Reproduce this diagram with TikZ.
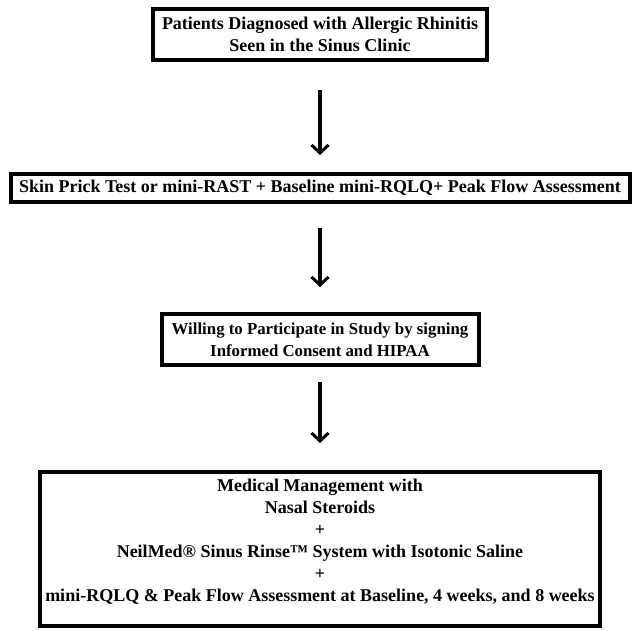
\documentclass[tikz,border=0pt]{standalone}
\usepackage{fontspec}
\setmainfont{Liberation Serif}
\usetikzlibrary{arrows.meta,positioning}

\begin{document}
\begin{tikzpicture}[x=1pt,y=-1pt,font=\bfseries\fontsize{18}{22}\selectfont,
    b/.style={rectangle,draw,line width=4pt,inner sep=0pt,align=center},
    a/.style={line width=4pt,-{Straight Barb[length=8pt,width=17pt,line width=3pt]}}]
  \useasboundingbox (0,0) rectangle (632,631);
  \node[b,minimum width=334,minimum height=51] (p1) at (320,34.5)
    {Patients Diagnosed with Allergic Rhinitis\\Seen in the Sinus Clinic};
  \node[b,minimum width=619,minimum height=28] (p2) at (320,188)
    {Skin Prick Test or mini-RAST + Baseline mini-RQLQ+ Peak Flow Assessment};
  \node[b,minimum width=317,minimum height=51,
    font=\bfseries\fontsize{16.8}{22}\selectfont] (p3) at (320,339.5)
    {Willing to Participate in Study by signing\\Informed Consent and HIPAA};
  \node[b,minimum width=560,minimum height=154] (p4) at (320,549) {};
  \node[align=center,inner sep=0pt,below=9pt of p4.north] (t4)
    {Medical Management with\\Nasal Steroids\\+\\NeilMed® Sinus Rinse™ System with Isotonic Saline\\+\\mini-RQLQ \& Peak Flow Assessment at Baseline, 4 weeks, and 8 weeks};
  % arrows between the steps
  \draw[a,shorten <=28pt,shorten >=17pt] (p1) -- (p2);
  \draw[a,shorten <=24pt,shorten >=25pt] (p2) -- (p3);
  \draw[a,shorten <=15pt,shorten >=27pt] (p3) -- (p4);
\end{tikzpicture}
\end{document}
